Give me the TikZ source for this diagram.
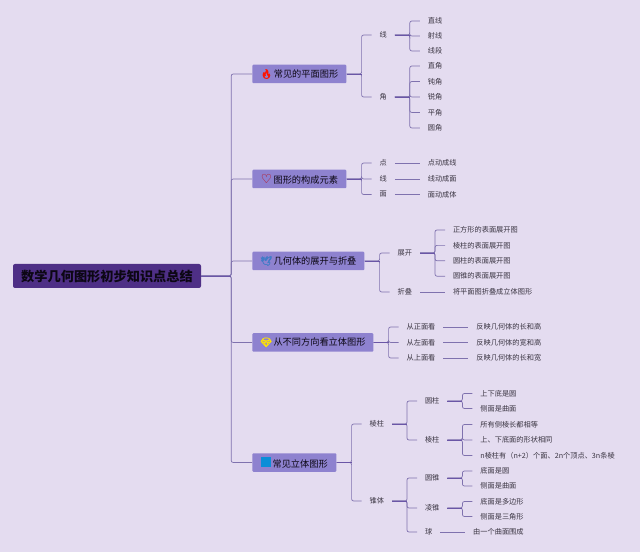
\documentclass[tikz,border=0pt]{standalone}
\usepackage{fontspec}
\setmainfont{Noto Sans CJK SC}
\newfontfamily\emoji[FakeBold=2.5]{Noto Emoji}
\newfontfamily\simbolo{DejaVu Sans}
\usetikzlibrary{positioning}
\definecolor{fondo}{HTML}{E4DCF0}
\definecolor{morado}{HTML}{4E2F86}
\definecolor{lila}{HTML}{8E82CF}
\definecolor{linea}{HTML}{7F72AE}
\definecolor{tronco}{HTML}{6A56A6}
\definecolor{letra}{HTML}{3A3542}

\begin{document}
\begin{tikzpicture}[font=\fontsize{7.2}{9}\selectfont, text=letra,
      raiz/.style={fill=morado, rounded corners=2pt, minimum width=188pt, minimum height=24pt,
                inner sep=0pt, text=black!85!morado, font=\fontsize{13.2}{16}\selectfont\bfseries},
      rama/.style={fill=lila, rounded corners=1pt, minimum height=18.5pt, inner sep=0pt,
                text=black!85!morado, font=\fontsize{9.2}{11}\selectfont},
      t/.style={inner sep=0pt, outer xsep=8pt, anchor=west},
      lin/.style={draw=linea, line width=0.7pt},
      gajo/.style={lin, rounded corners=2pt, to path={-- ++(15pt,0) |- (\tikztotarget)}},
      tallo/.style={draw=tronco, line width=0.9pt}]
    \path[use as bounding box, fill=fondo] (0,0) rectangle (640pt,552pt);
    \node[raiz] (r) at (107pt,276pt) {数学几何图形初步知识点总结};

    % ramas
    \node[rama, minimum width=94pt, above right=202pt and 51pt of r.east, anchor=west] (b1) {{\emoji\color{red!85!orange}🔥}\,常见的平面图形};
    \node[rama, minimum width=94pt, above right=97pt and 51pt of r.east, anchor=west] (b2) {{\simbolo\fontsize{12.5}{11}\selectfont\color{red!75!black}♡}\,图形的构成元素};
    \node[rama, minimum width=112pt, above right=15pt and 51pt of r.east, anchor=west] (b3) {{\emoji\color{cyan!45!blue!80!white}🕊}\,几何体的展开与折叠};
    \node[rama, minimum width=121pt, below right=66.5pt and 51pt of r.east, anchor=west] (b4) {{\emoji\color{yellow!85!orange}💎}\,从不同方向看立体图形};
    \node[rama, minimum width=84pt, below right=186.5pt and 51pt of r.east, anchor=west] (b5) {{\color{cyan!75!blue}\rule{10pt}{10pt}}\,常见立体图形};

    % rama 1
    \node[above right=39pt and 25pt of b1.east, t] (xian) {线};
    \node[below right=23pt and 25pt of b1.east, t] (jiao) {角};
    \node[above right=14pt and 25pt of xian.east, t] (x1) {直线};
    \node[below=15pt of x1.west, t] (x2) {射线};
    \node[below=15pt of x2.west, t] (x3) {线段};
    \node[above right=31pt and 25pt of jiao.east, t] (j1) {直角};
    \node[below=15.5pt of j1.west, t] (j2) {钝角};
    \node[below=15.5pt of j2.west, t] (j3) {锐角};
    \node[below=15.5pt of j3.west, t] (j4) {平角};
    \node[below=15.5pt of j4.west, t] (j5) {圆角};

    % rama 2
    \node[above right=16pt and 25pt of b2.east, t] (dian) {点};
    \node[right=25pt of b2.east, t] (xian2) {线};
    \node[below right=15.5pt and 25pt of b2.east, t] (mian) {面};
    \node[right=25pt of dian.east, t] (d1) {点动成线};
    \node[right=25pt of xian2.east, t] (d2) {线动成面};
    \node[right=25pt of mian.east, t] (d3) {面动成体};

    % rama 3
    \node[above right=8pt and 25pt of b3.east, t] (zk) {展开};
    \node[below right=31pt and 25pt of b3.east, t] (zd) {折叠};
    \node[above right=23pt and 25pt of zk.east, t] (z1) {正方形的表面展开图};
    \node[below=15.4pt of z1.west, t] (z2) {棱柱的表面展开图};
    \node[below=15.4pt of z2.west, t] (z3) {圆柱的表面展开图};
    \node[below=15.4pt of z3.west, t] (z4) {圆锥的表面展开图};
    \node[right=25pt of zd.east, t] (z5) {将平面图折叠成立体图形};

    % rama 4
    \node[above right=15.5pt and 25pt of b4.east, t] (k1) {从正面看};
    \node[right=25pt of b4.east, t] (k2) {从左面看};
    \node[below right=15.5pt and 25pt of b4.east, t] (k3) {从上面看};
    \node[right=25pt of k1.east, t] (f1) {反映几何体的长和高};
    \node[right=25pt of k2.east, t] (f2) {反映几何体的宽和高};
    \node[right=25pt of k3.east, t] (f3) {反映几何体的长和宽};

    % rama 5
    \node[above right=38.5pt and 25pt of b5.east, t] (lz) {棱柱};
    \node[below right=38.5pt and 25pt of b5.east, t] (zt) {锥体};
    \node[above right=23pt and 25pt of lz.east, t] (yz) {圆柱};
    \node[below right=16pt and 25pt of lz.east, t] (lz2) {棱柱};
    \node[above right=23pt and 25pt of zt.east, t] (yu) {圆锥};
    \node[below right=7pt and 25pt of zt.east, t] (lu) {凌锥};
    \node[below right=31pt and 25pt of zt.east, t] (qiu) {球};
    \node[above right=7.5pt and 25pt of yz.east, t] (a1) {上下底是圆};
    \node[below right=7.5pt and 25pt of yz.east, t] (a2) {侧面是曲面};
    \node[above right=15.5pt and 25pt of lz2.east, t] (c1) {所有侧棱长都相等};
    \node[right=25pt of lz2.east, t] (c2) {上、下底面的形状相同};
    \node[below right=15.5pt and 25pt of lz2.east, t] (c3) {n棱柱有（n+2）个面、2n个顶点、3n条棱};
    \node[above right=7pt and 25pt of yu.east, t] (u1) {底面是圆};
    \node[below right=8pt and 25pt of yu.east, t] (u2) {侧面是曲面};
    \node[above right=6.5pt and 25pt of lu.east, t] (v1) {底面是多边形};
    \node[below right=8.5pt and 25pt of lu.east, t] (v2) {侧面是三角形};
    \node[right=25pt of qiu.east, t] (q1) {由一个曲面围成};

    % conectores
    \draw[lin, rounded corners=2pt] (r.east) -- ++(30pt,0) |- (b1.west);
    \draw[lin, rounded corners=2pt] (r.east) -- ++(30pt,0) |- (b2.west);
    \draw[lin, rounded corners=2pt] (r.east) -- ++(30pt,0) |- (b3.west);
    \draw[lin, rounded corners=2pt] (r.east) -- ++(30pt,0) |- (b4.west);
    \draw[lin, rounded corners=2pt] (r.east) -- ++(30pt,0) |- (b5.west);
    \draw[tallo] (r.east) -- ++(30pt,0);

    \draw[gajo] (b1.east) to (xian.west);
    \draw[gajo] (b1.east) to (jiao.west);
    \draw[tallo] (b1.east) -- ++(15pt,0);
    \draw[gajo] (xian.east) to (x1.west);
    \draw[gajo] (xian.east) to (x2.west);
    \draw[gajo] (xian.east) to (x3.west);
    \draw[tallo] (xian.east) -- ++(15pt,0);
    \draw[gajo] (jiao.east) to (j1.west);
    \draw[gajo] (jiao.east) to (j2.west);
    \draw[gajo] (jiao.east) to (j3.west);
    \draw[gajo] (jiao.east) to (j4.west);
    \draw[gajo] (jiao.east) to (j5.west);
    \draw[tallo] (jiao.east) -- ++(15pt,0);

    \draw[gajo] (b2.east) to (dian.west);
    \draw[gajo] (b2.east) to (xian2.west);
    \draw[gajo] (b2.east) to (mian.west);
    \draw[tallo] (b2.east) -- ++(15pt,0);
    \draw[lin] (dian) -- (d1);
    \draw[lin] (xian2) -- (d2);
    \draw[lin] (mian) -- (d3);

    \draw[gajo] (b3.east) to (zk.west);
    \draw[gajo] (b3.east) to (zd.west);
    \draw[tallo] (b3.east) -- ++(15pt,0);
    \draw[gajo] (zk.east) to (z1.west);
    \draw[gajo] (zk.east) to (z2.west);
    \draw[gajo] (zk.east) to (z3.west);
    \draw[gajo] (zk.east) to (z4.west);
    \draw[tallo] (zk.east) -- ++(15pt,0);
    \draw[lin] (zd) -- (z5);

    \draw[gajo] (b4.east) to (k1.west);
    \draw[gajo] (b4.east) to (k2.west);
    \draw[gajo] (b4.east) to (k3.west);
    \draw[tallo] (b4.east) -- ++(15pt,0);
    \draw[lin] (k1) -- (f1);
    \draw[lin] (k2) -- (f2);
    \draw[lin] (k3) -- (f3);

    \draw[gajo] (b5.east) to (lz.west);
    \draw[gajo] (b5.east) to (zt.west);
    \draw[tallo] (b5.east) -- ++(15pt,0);
    \draw[gajo] (lz.east) to (yz.west);
    \draw[gajo] (lz.east) to (lz2.west);
    \draw[tallo] (lz.east) -- ++(15pt,0);
    \draw[gajo] (zt.east) to (yu.west);
    \draw[gajo] (zt.east) to (lu.west);
    \draw[gajo] (zt.east) to (qiu.west);
    \draw[tallo] (zt.east) -- ++(15pt,0);
    \draw[gajo] (yz.east) to (a1.west);
    \draw[gajo] (yz.east) to (a2.west);
    \draw[tallo] (yz.east) -- ++(15pt,0);
    \draw[gajo] (lz2.east) to (c1.west);
    \draw[gajo] (lz2.east) to (c2.west);
    \draw[gajo] (lz2.east) to (c3.west);
    \draw[tallo] (lz2.east) -- ++(15pt,0);
    \draw[gajo] (yu.east) to (u1.west);
    \draw[gajo] (yu.east) to (u2.west);
    \draw[tallo] (yu.east) -- ++(15pt,0);
    \draw[gajo] (lu.east) to (v1.west);
    \draw[gajo] (lu.east) to (v2.west);
    \draw[tallo] (lu.east) -- ++(15pt,0);
    \draw[lin] (qiu) -- (q1);
  \end{tikzpicture}
\end{document}
